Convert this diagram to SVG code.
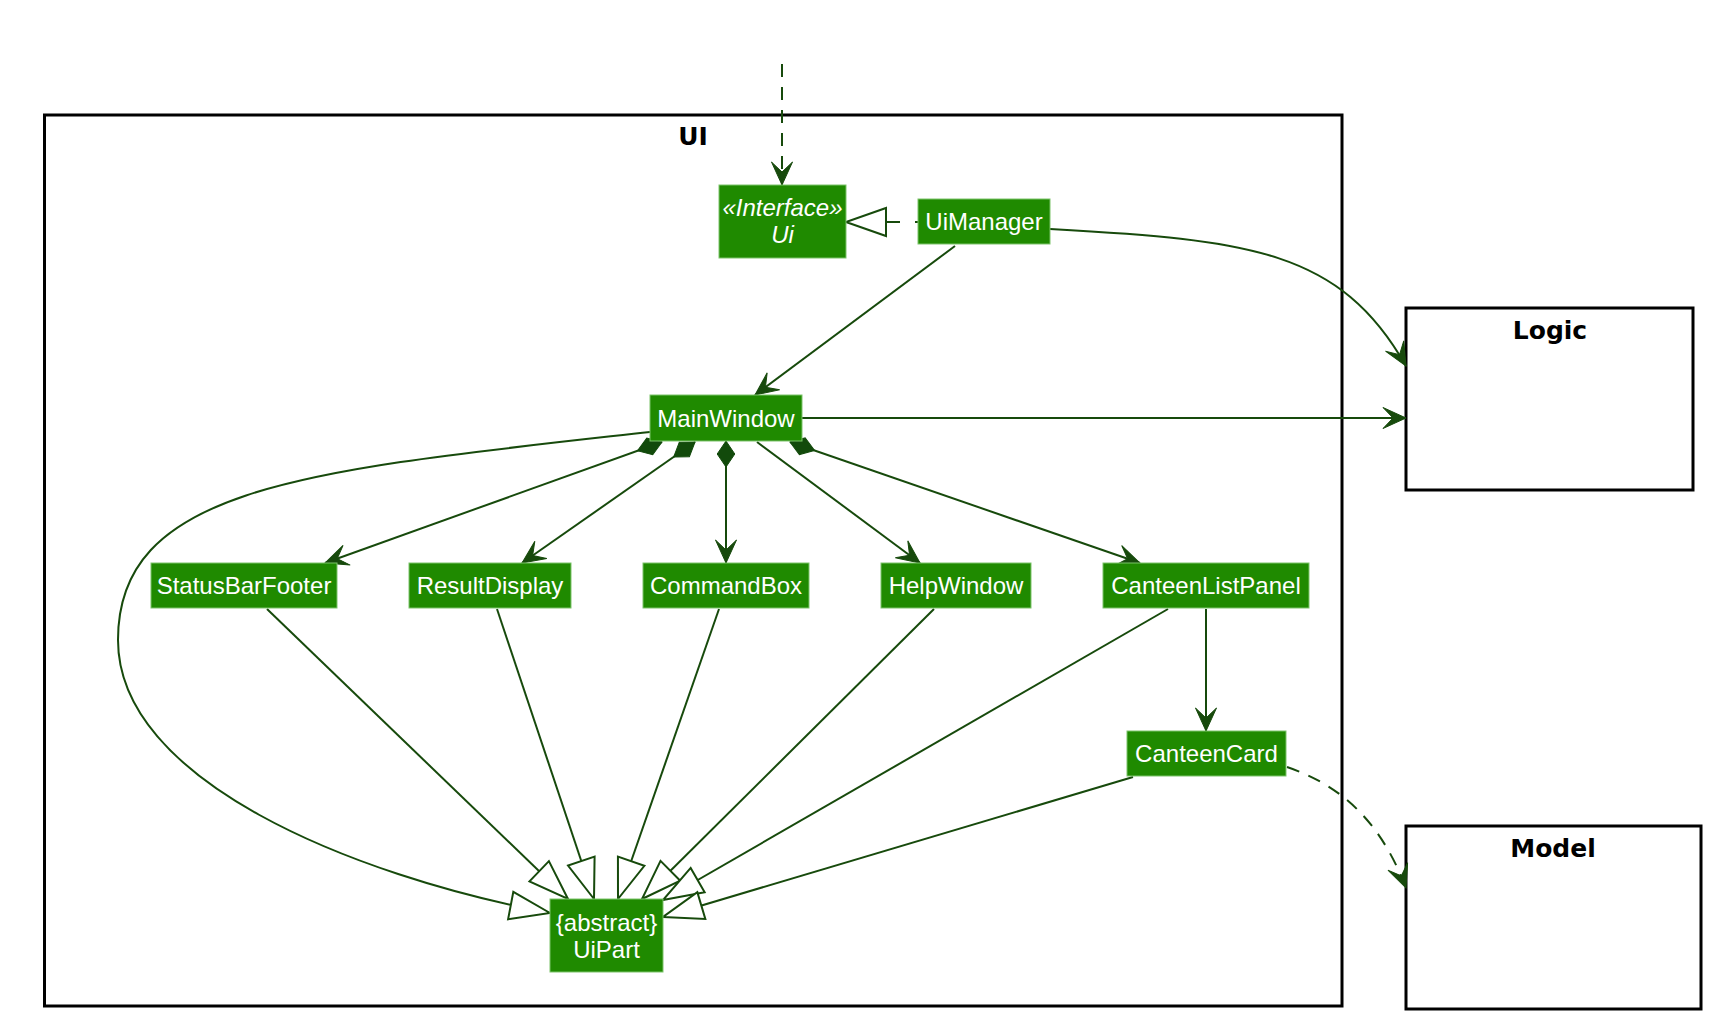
<svg xmlns="http://www.w3.org/2000/svg" width="1720" height="1028" viewBox="0 0 1720 1028">
<style>
.frame{fill:none;stroke:#000;stroke-width:3}
.ftitle{font-family:"DejaVu Sans",Verdana,sans-serif;font-weight:bold;font-size:25px;fill:#000;text-anchor:middle}
.node rect{fill:#1F8A00;stroke:#7DC36B;stroke-width:1}
.node text{font-family:"Liberation Sans",Arial,sans-serif;font-size:24px;fill:#fff;text-anchor:middle}
.it{font-style:italic}
.c{fill:none;stroke:#174A0C;stroke-width:2}
</style>
<defs>
<marker id="vee" markerUnits="userSpaceOnUse" orient="auto" refX="0" refY="0" markerWidth="30" markerHeight="30" overflow="visible">
<path d="M0,0 L-23,-10.5 L-13,0 L-23,10.5 Z" fill="#174A0C" stroke="#174A0C" stroke-width="1"/>
</marker>
<marker id="tri" markerUnits="userSpaceOnUse" orient="auto" refX="0" refY="0" markerWidth="50" markerHeight="50" overflow="visible">
<path d="M0,0 L-40,-14 L-40,14 Z" fill="#fff" stroke="#174A0C" stroke-width="2"/>
</marker>
<marker id="dia" markerUnits="userSpaceOnUse" orient="auto" refX="0" refY="0" markerWidth="30" markerHeight="30" overflow="visible">
<path d="M0,0 L13,-8.8 L26,0 L13,8.8 Z" fill="#124A0B" stroke="#124A0B" stroke-width="1"/>
</marker>
</defs>
<rect width="1720" height="1028" fill="#fff"/>
<g id="UI">
<rect class="frame" x="44.5" y="115" width="1297.5" height="891"/>
<text class="ftitle" x="693" y="145">UI</text>
</g>
<g id="Logic">
<rect class="frame" x="1406" y="308" width="287" height="182"/>
<text class="ftitle" x="1550" y="339">Logic</text>
</g>
<g id="Model">
<rect class="frame" x="1406" y="826" width="295" height="183"/>
<text class="ftitle" x="1553" y="857">Model</text>
</g>
<g id="connectors">
<path class="c" d="M782,64 L782,185" stroke-dasharray="13,10" marker-end="url(#vee)"/>
<path class="c" d="M918,222 L846,222" stroke-dasharray="3,15,13,60" marker-end="url(#tri)"/>
<path class="c" d="M955,246 L755,395" marker-end="url(#vee)"/>
<path class="c" d="M1050,229 C1250,240 1340,250 1406,366" marker-end="url(#vee)"/>
<path class="c" d="M802,418 L1406,418" marker-end="url(#vee)"/>
<path class="c" d="M662,442 L325,563" marker-start="url(#dia)" marker-end="url(#vee)"/>
<path class="c" d="M695,442 L522,563" marker-start="url(#dia)" marker-end="url(#vee)"/>
<path class="c" d="M726,441 L726,563" marker-start="url(#dia)" marker-end="url(#vee)"/>
<path class="c" d="M757,442 L920,563" marker-end="url(#vee)"/>
<path class="c" d="M790,442 L1140,563" marker-start="url(#dia)" marker-end="url(#vee)"/>
<path class="c" d="M1206,609 L1206,731" marker-end="url(#vee)"/>
<path class="c" d="M1287,767 C1340,785 1380,820 1406,888" stroke-dasharray="13,10" marker-end="url(#vee)"/>
<path class="c" d="M650,432 C310,470 118,485 118,640 C118,780 350,875 550,913" marker-end="url(#tri)"/>
<path class="c" d="M267,609 L568,899" marker-end="url(#tri)"/>
<path class="c" d="M497,609 L594,899" marker-end="url(#tri)"/>
<path class="c" d="M719,609 L618,899" marker-end="url(#tri)"/>
<path class="c" d="M934,609 L642,899" marker-end="url(#tri)"/>
<path class="c" d="M1168,609 L663,900" marker-end="url(#tri)"/>
<path class="c" d="M1133,777 L663,917" marker-end="url(#tri)"/>
</g>
<g id="Ui" class="node">
<rect x="719" y="185" width="127" height="73"/>
<text class="it" x="782.5" y="216">«Interface»</text>
<text class="it" x="782.5" y="243">Ui</text>
</g>
<g id="UiManager" class="node">
<rect x="918" y="199" width="132" height="45"/>
<text x="984" y="230">UiManager</text>
</g>
<g id="MainWindow" class="node">
<rect x="650" y="395" width="152" height="46"/>
<text x="726" y="427">MainWindow</text>
</g>
<g id="StatusBarFooter" class="node">
<rect x="151" y="563" width="186" height="45"/>
<text x="244" y="594">StatusBarFooter</text>
</g>
<g id="ResultDisplay" class="node">
<rect x="409" y="563" width="162" height="45"/>
<text x="490" y="594">ResultDisplay</text>
</g>
<g id="CommandBox" class="node">
<rect x="643" y="563" width="166" height="45"/>
<text x="726" y="594">CommandBox</text>
</g>
<g id="HelpWindow" class="node">
<rect x="881" y="563" width="150" height="45"/>
<text x="956" y="594">HelpWindow</text>
</g>
<g id="CanteenListPanel" class="node">
<rect x="1103" y="563" width="206" height="45"/>
<text x="1206" y="594">CanteenListPanel</text>
</g>
<g id="CanteenCard" class="node">
<rect x="1127" y="731" width="159" height="45"/>
<text x="1206.5" y="762">CanteenCard</text>
</g>
<g id="UiPart" class="node">
<rect x="550" y="899" width="113" height="73"/>
<text x="606.5" y="931">{abstract}</text>
<text x="606.5" y="958">UiPart</text>
</g>
</svg>
